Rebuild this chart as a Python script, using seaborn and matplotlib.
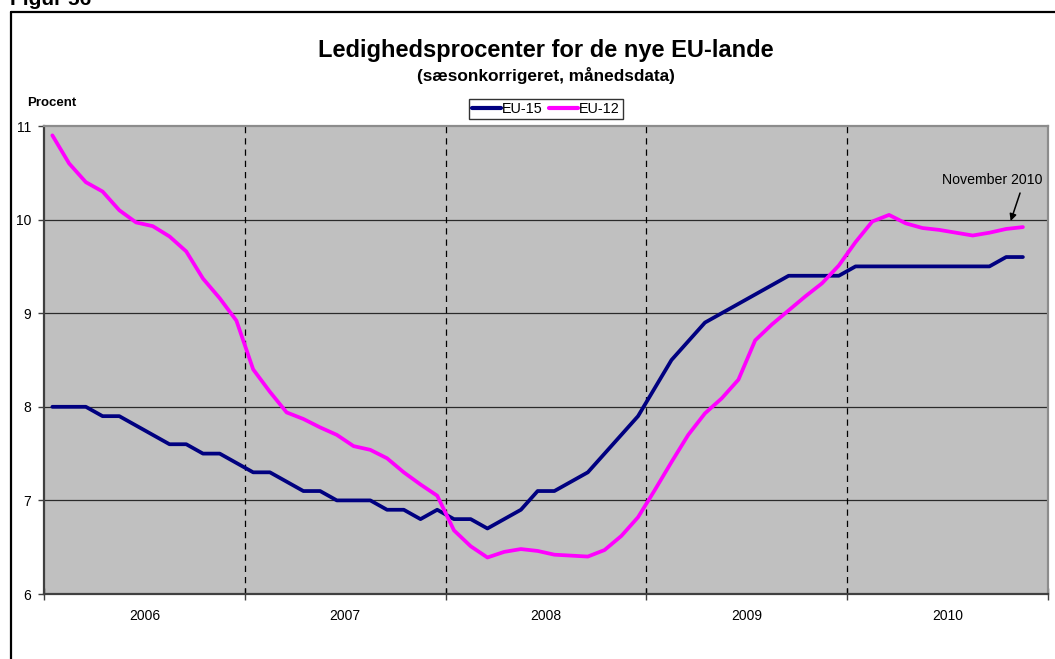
import numpy as np
import pandas as pd
import matplotlib
matplotlib.use("Agg")
import matplotlib.pyplot as plt
from matplotlib.lines import Line2D
import seaborn as sns

# Monthly seasonally adjusted unemployment rates, Jan 2006 - Nov 2010
eu15 = [8.0, 8.0, 8.0, 7.9, 7.9, 7.8, 7.7, 7.6, 7.6, 7.5, 7.5, 7.4,
        7.3, 7.3, 7.2, 7.1, 7.1, 7.0, 7.0, 7.0, 6.9, 6.9, 6.8, 6.9,
        6.8, 6.8, 6.7, 6.8, 6.9, 7.1, 7.1, 7.2, 7.3, 7.5, 7.7, 7.9,
        8.2, 8.5, 8.7, 8.9, 9.0, 9.1, 9.2, 9.3, 9.4, 9.4, 9.4, 9.4,
        9.5, 9.5, 9.5, 9.5, 9.5, 9.5, 9.5, 9.5, 9.5, 9.6, 9.6]
eu12 = [10.9, 10.6, 10.4, 10.3, 10.1, 9.97, 9.93, 9.82, 9.66, 9.37, 9.16, 8.92,
        8.40, 8.16, 7.94, 7.87, 7.78, 7.70, 7.58, 7.54, 7.45, 7.30, 7.17, 7.05,
        6.68, 6.51, 6.39, 6.45, 6.48, 6.46, 6.42, 6.41, 6.40, 6.47, 6.62, 6.82,
        7.11, 7.41, 7.70, 7.93, 8.09, 8.29, 8.71, 8.88, 9.03, 9.18, 9.32, 9.51,
        9.76, 9.98, 10.05, 9.96, 9.91, 9.89, 9.86, 9.83, 9.86, 9.90, 9.92]
series_names = ["EU-15", "EU-12"]
series_colors = ["#000080", "#FF00FF"]
years = ["2006", "2007", "2008", "2009", "2010"]
yticks = [6, 7, 8, 9, 10, 11]

months_per_year = 12
month = np.arange(len(eu15))
df = pd.concat([
    pd.DataFrame({"month": month, "rate": eu15, "serie": series_names[0]}),
    pd.DataFrame({"month": month, "rate": eu12, "serie": series_names[1]}),
], ignore_index=True)

sns.set_style("white")
plt.rcParams["font.family"] = ["Liberation Sans", "DejaVu Sans"]
plt.rcParams["text.color"] = "black"
plt.rcParams["xtick.color"] = "black"
plt.rcParams["ytick.color"] = "black"
plt.rcParams["axes.labelcolor"] = "black"

W, H = 1055, 659
fig = plt.figure(figsize=(W / 100, H / 100), dpi=100)
ax = fig.add_axes([44 / W, 1 - 594 / H, (1048 - 44) / W, (594 - 126) / H])
ax.set_facecolor("#C0C0C0")

n_years = len(years)
ax.set_xlim(-0.5, n_years * months_per_year - 0.5)
ax.set_ylim(yticks[0], yticks[-1])

# grid: solid horizontal lines, dashed year separators
for v in yticks[1:-1]:
    ax.axhline(v, color="#2a2a2a", lw=0.9, zorder=1)
for k in range(1, n_years):
    ax.axvline(k * months_per_year - 0.5, color="black", lw=0.9,
               linestyle=(0, (5, 4)), zorder=1)

sns.lineplot(data=df, x="month", y="rate", hue="serie",
             palette=dict(zip(series_names, series_colors)),
             linewidth=2.7, ax=ax, legend=False, zorder=3)
for ln in ax.get_lines():
    ln.set_solid_joinstyle("round")
    ln.set_solid_capstyle("round")

# axes frame
for s in ["left", "bottom"]:
    ax.spines[s].set_color("#404040")
    ax.spines[s].set_linewidth(1.6)
for s in ["top", "right"]:
    ax.spines[s].set_color("#8c8c8c")
    ax.spines[s].set_linewidth(1.6)

ax.set_yticks(yticks)
ax.set_yticklabels([str(v) for v in yticks])
ax.tick_params(axis="y", direction="out", length=4, width=1, color="#404040",
               pad=5, labelsize=10, left=True, labelcolor="black")
ax.set_xticks([k * months_per_year - 0.5 for k in range(n_years + 1)])
ax.set_xticklabels([])
ax.tick_params(axis="x", which="major", direction="inout", length=9, width=1,
               color="#404040", bottom=True)
ax.set_xticks([k * months_per_year + 5.5 for k in range(n_years)], minor=True)
ax.set_xticklabels(years, minor=True)
ax.tick_params(axis="x", which="minor", length=0, pad=11, labelsize=10,
               labelcolor="black")
ax.set_xlabel("")
ax.set_ylabel("")

# annotation for the latest observation
ax.text(56.15, 10.42, "November 2010", ha="center", va="center",
        fontsize=10.2, color="black")
ax.annotate("", xy=(57.27, 9.985), xytext=(57.83, 10.284),
            arrowprops=dict(arrowstyle="-|>", color="black", lw=1.1,
                            mutation_scale=10, shrinkA=0, shrinkB=0))

# legend above plot area
handles = [Line2D([0], [0], color=c, lw=3) for c in series_colors]
leg = fig.legend(handles, series_names, loc="lower center",
                 bbox_to_anchor=(546 / W, 1 - 119 / H), ncol=2, frameon=True,
                 fancybox=False, fontsize=10.4, handlelength=2.0,
                 handletextpad=0.1, columnspacing=0.4, borderpad=0.2,
                 borderaxespad=0)
leg.get_frame().set_edgecolor("black")
leg.get_frame().set_linewidth(1.0)
for t in leg.get_texts():
    t.set_color("black")

# titles and labels
fig.text(546 / W, 1 - 51 / H, "Ledighedsprocenter for de nye EU-lande",
         ha="center", va="center", fontsize=17, fontweight="bold",
         color="black")
fig.text(546 / W, 1 - 76 / H, "(sæsonkorrigeret, månedsdata)",
         ha="center", va="center", fontsize=12.4, fontweight="bold",
         color="black")
fig.text(27 / W, 1 - 103 / H, "Procent", ha="left", va="center",
         fontsize=9.5, fontweight="bold", color="black")
fig.text(10 / W, 1 - 5 / H, "Figur 56", ha="left", va="baseline",
         fontsize=15, fontweight="bold", color="black")

# outer frame of the figure panel
fig.add_artist(Line2D([11 / W, 11 / W], [0, 1 - 12 / H], color="black",
                      lw=1.6, transform=fig.transFigure))
fig.add_artist(Line2D([11 / W, 1], [1 - 12 / H, 1 - 12 / H], color="black",
                      lw=1.6, transform=fig.transFigure))

fig.savefig("out.png", dpi=100, facecolor="white")
